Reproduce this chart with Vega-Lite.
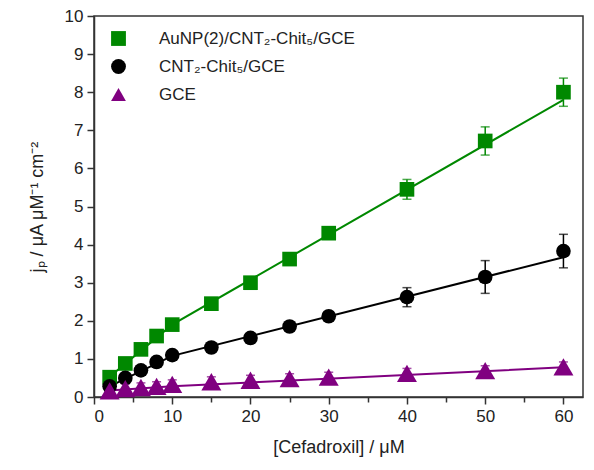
{
  "$schema": "https://vega.github.io/schema/vega-lite/v6.json",
  "autosize": {"type": "none"},
  "width": 489,
  "height": 381,
  "padding": {"left": 94, "top": 16, "right": 11, "bottom": 73},
  "background": "white",
  "config": {
    "view": {"stroke": "#333333", "strokeWidth": 1.5},
    "font": "Liberation Sans",
    "axis": {
      "domainColor": "#333333", "domainWidth": 1.5, "tickColor": "#333333", "tickWidth": 1.5,
      "labelFont": "Liberation Sans", "labelFontSize": 17, "labelColor": "#222222",
      "titleFont": "Liberation Sans", "titleFontSize": 18, "titleFontWeight": "normal", "titleColor": "#222222",
      "grid": false
    },
    "legend": {"labelFont": "Liberation Sans", "labelFontSize": 17, "labelColor": "#222222", "labelLimit": 400, "symbolOpacity": 1, "symbolStrokeWidth": 0}
  },
  "datasets": {
    "pts": [
      {"series": "AuNP(2)/CNT₂-Chit₅/GCE", "x": 2, "y": 0.52, "err": 0.05},
      {"series": "AuNP(2)/CNT₂-Chit₅/GCE", "x": 4, "y": 0.88, "err": 0.05},
      {"series": "AuNP(2)/CNT₂-Chit₅/GCE", "x": 6, "y": 1.25, "err": 0.06},
      {"series": "AuNP(2)/CNT₂-Chit₅/GCE", "x": 8, "y": 1.6, "err": 0.08},
      {"series": "AuNP(2)/CNT₂-Chit₅/GCE", "x": 10, "y": 1.9, "err": 0.1},
      {"series": "AuNP(2)/CNT₂-Chit₅/GCE", "x": 15, "y": 2.45, "err": 0.1},
      {"series": "AuNP(2)/CNT₂-Chit₅/GCE", "x": 20, "y": 3.0, "err": 0.1},
      {"series": "AuNP(2)/CNT₂-Chit₅/GCE", "x": 25, "y": 3.62, "err": 0.1},
      {"series": "AuNP(2)/CNT₂-Chit₅/GCE", "x": 30, "y": 4.3, "err": 0.08},
      {"series": "AuNP(2)/CNT₂-Chit₅/GCE", "x": 40, "y": 5.45, "err": 0.26},
      {"series": "AuNP(2)/CNT₂-Chit₅/GCE", "x": 50, "y": 6.72, "err": 0.37},
      {"series": "AuNP(2)/CNT₂-Chit₅/GCE", "x": 60, "y": 8.0, "err": 0.37},
      {"series": "CNT₂-Chit₅/GCE", "x": 2, "y": 0.28, "err": 0.05},
      {"series": "CNT₂-Chit₅/GCE", "x": 4, "y": 0.5, "err": 0.05},
      {"series": "CNT₂-Chit₅/GCE", "x": 6, "y": 0.7, "err": 0.05},
      {"series": "CNT₂-Chit₅/GCE", "x": 8, "y": 0.92, "err": 0.06},
      {"series": "CNT₂-Chit₅/GCE", "x": 10, "y": 1.1, "err": 0.08},
      {"series": "CNT₂-Chit₅/GCE", "x": 15, "y": 1.3, "err": 0.08},
      {"series": "CNT₂-Chit₅/GCE", "x": 20, "y": 1.55, "err": 0.08},
      {"series": "CNT₂-Chit₅/GCE", "x": 25, "y": 1.85, "err": 0.08},
      {"series": "CNT₂-Chit₅/GCE", "x": 30, "y": 2.12, "err": 0.08},
      {"series": "CNT₂-Chit₅/GCE", "x": 40, "y": 2.62, "err": 0.25},
      {"series": "CNT₂-Chit₅/GCE", "x": 50, "y": 3.15, "err": 0.43},
      {"series": "CNT₂-Chit₅/GCE", "x": 60, "y": 3.83, "err": 0.44},
      {"series": "GCE", "x": 2, "y": 0.16, "err": 0.12},
      {"series": "GCE", "x": 4, "y": 0.22, "err": 0.12},
      {"series": "GCE", "x": 6, "y": 0.25, "err": 0.12},
      {"series": "GCE", "x": 8, "y": 0.28, "err": 0.12},
      {"series": "GCE", "x": 10, "y": 0.33, "err": 0.12},
      {"series": "GCE", "x": 15, "y": 0.4, "err": 0.13},
      {"series": "GCE", "x": 20, "y": 0.44, "err": 0.13},
      {"series": "GCE", "x": 25, "y": 0.48, "err": 0.13},
      {"series": "GCE", "x": 30, "y": 0.52, "err": 0.13},
      {"series": "GCE", "x": 40, "y": 0.62, "err": 0.13},
      {"series": "GCE", "x": 50, "y": 0.69, "err": 0.13},
      {"series": "GCE", "x": 60, "y": 0.79, "err": 0.13}
    ],
    "fit": [
      {"series": "AuNP(2)/CNT₂-Chit₅/GCE", "x": 2, "y": 0.53},
      {"series": "AuNP(2)/CNT₂-Chit₅/GCE", "x": 10, "y": 1.9},
      {"series": "AuNP(2)/CNT₂-Chit₅/GCE", "x": 60, "y": 7.8},
      {"series": "CNT₂-Chit₅/GCE", "x": 2, "y": 0.28},
      {"series": "CNT₂-Chit₅/GCE", "x": 10, "y": 1.08},
      {"series": "CNT₂-Chit₅/GCE", "x": 60, "y": 3.67},
      {"series": "GCE", "x": 2, "y": 0.17},
      {"series": "GCE", "x": 10, "y": 0.28},
      {"series": "GCE", "x": 60, "y": 0.78}
    ]
  },
  "encoding": {
    "x": {
      "field": "x", "type": "quantitative",
      "scale": {"domain": [0, 62.5], "nice": false, "zero": false},
      "axis": {
        "title": "[Cefadroxil] / μM", "titlePadding": 14,
        "values": [0, 5, 10, 15, 20, 25, 30, 35, 40, 45, 50, 55, 60],
        "format": "d",
        "labelExpr": "datum.value % 10 === 0 ? datum.label : ''",
        "tickSize": {"condition": {"test": "datum.value % 10 === 0", "value": 7}, "value": 5},
        "labelPadding": 4
      }
    },
    "y": {
      "field": "y", "type": "quantitative",
      "scale": {"domain": [0, 10], "nice": false},
      "axis": {
        "title": "jₚ / μA μM⁻¹ cm⁻²", "titlePadding": 18,
        "values": [0, 0.5, 1, 1.5, 2, 2.5, 3, 3.5, 4, 4.5, 5, 5.5, 6, 6.5, 7, 7.5, 8, 8.5, 9, 9.5, 10],
        "format": "d",
        "labelExpr": "datum.value % 1 === 0 ? datum.label : ''",
        "tickSize": {"condition": {"test": "datum.value % 1 === 0", "value": 7}, "value": 5},
        "labelPadding": 4
      }
    }
  },
  "layer": [
    {
      "data": {"name": "fit"},
      "mark": {"type": "line", "strokeWidth": 2},
      "encoding": {
        "color": {"field": "series", "type": "nominal", "title": null,
          "legend": {"orient": "none", "legendX": 16, "legendY": 14, "symbolSize": 220, "labelOffset": 32, "rowPadding": 10, "symbolStrokeWidth": 0, "symbolOpacity": 1, "labelLimit": 400},
          "scale": {"domain": ["AuNP(2)/CNT₂-Chit₅/GCE", "CNT₂-Chit₅/GCE", "GCE"], "range": ["#008800", "#000000", "#800080"]}}
      }
    },
    {
      "data": {"name": "pts"},
      "mark": {"type": "errorbar", "ticks": {"size": 9}, "thickness": 1.5},
      "encoding": {
        "yError": {"field": "err"},
        "color": {"field": "series", "type": "nominal", "title": null}
      }
    },
    {
      "data": {"name": "pts"},
      "mark": {"type": "point", "filled": true, "opacity": 1},
      "encoding": {
        "color": {"field": "series", "type": "nominal", "title": null},
        "shape": {"field": "series", "type": "nominal", "title": null,
          "scale": {"domain": ["AuNP(2)/CNT₂-Chit₅/GCE", "CNT₂-Chit₅/GCE", "GCE"], "range": ["square", "circle", "triangle-up"]}},
        "size": {"condition": {"test": "datum.series === 'GCE'", "value": 400}, "value": 215}
      }
    }
  ]
}
